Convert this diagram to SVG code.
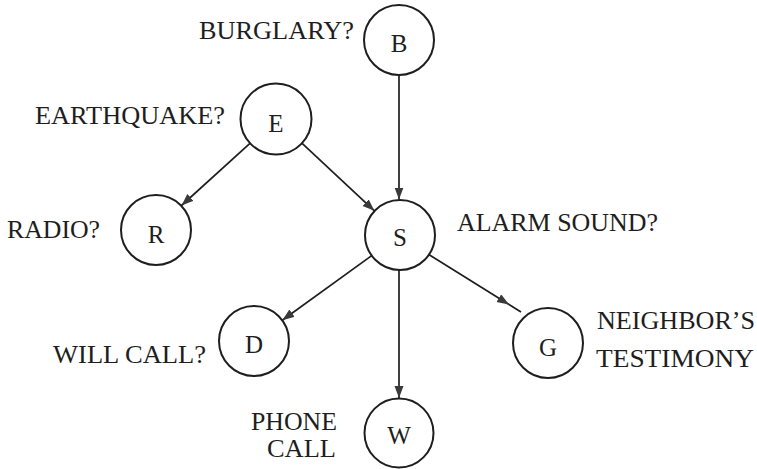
<svg xmlns="http://www.w3.org/2000/svg" width="757" height="469" viewBox="0 0 757 469">
  <style>
    .node circle { fill: #ffffff; stroke: #1e1e1e; stroke-width: 2; }
    .node text { font-family: "Liberation Serif", "Times New Roman", serif; font-size: 25px; fill: #1e1e1e; text-anchor: middle; }
    .label { font-family: "Liberation Serif", "Times New Roman", serif; font-size: 25px; fill: #1e1e1e; }
    .edge { fill: none; stroke: #1e1e1e; stroke-width: 1.7; }
    .arrow { marker-end: url(#head); }
  </style>
  <defs>
    <marker id="head" markerUnits="userSpaceOnUse" markerWidth="13" markerHeight="10" refX="12" refY="4.5" orient="auto">
      <path d="M0,0 L12,4.5 L0,9 z" fill="#3a3a3a"/>
    </marker>
  </defs>

  <rect width="757" height="469" fill="#ffffff"/>

  <!-- causal links -->
  <g id="connectors">
    <path class="edge arrow" d="M399,75 L399,199.5"/>
    <path class="edge arrow" d="M250.5,142.8 L181.5,205.5"/>
    <path class="edge arrow" d="M301.6,142.9 L374.4,210.8"/>
    <path class="edge arrow" d="M371.7,255.6 L282.3,320.2"/>
    <path class="edge arrow" d="M399,269.7 L399,398"/>
    <path class="edge arrow" d="M428,254 L509,304.5"/>
    <path class="edge" d="M509,304.5 L521,312"/>
  </g>

  <g id="node-B" class="node">
    <circle cx="399" cy="40" r="35"/>
    <text x="399" y="52">B</text>
  </g>
  <g id="node-E" class="node">
    <circle cx="276" cy="119" r="35.5"/>
    <text x="276" y="132">E</text>
  </g>
  <g id="node-R" class="node">
    <circle cx="156" cy="230" r="35"/>
    <text x="156" y="243">R</text>
  </g>
  <g id="node-S" class="node">
    <circle cx="400" cy="235" r="35"/>
    <text x="400" y="246">S</text>
  </g>
  <g id="node-D" class="node">
    <circle cx="254" cy="341" r="35"/>
    <text x="254" y="353">D</text>
  </g>
  <g id="node-G" class="node">
    <circle cx="548" cy="343" r="35"/>
    <text x="548" y="356">G</text>
  </g>
  <g id="node-W" class="node">
    <circle cx="399" cy="433" r="34.5"/>
    <text x="399" y="444">W</text>
  </g>

  <!-- variable descriptions -->
  <g id="labels">
    <text class="label" x="199" y="39" textLength="155" lengthAdjust="spacingAndGlyphs">BURGLARY?</text>
    <text class="label" x="35" y="124" textLength="190" lengthAdjust="spacingAndGlyphs">EARTHQUAKE?</text>
    <text class="label" x="7" y="238" textLength="93" lengthAdjust="spacingAndGlyphs">RADIO?</text>
    <text class="label" x="457" y="231" textLength="201" lengthAdjust="spacingAndGlyphs">ALARM SOUND?</text>
    <text class="label" x="53" y="363" textLength="153" lengthAdjust="spacingAndGlyphs">WILL CALL?</text>
    <text class="label" x="597" y="329" textLength="158" lengthAdjust="spacingAndGlyphs">NEIGHBOR’S</text>
    <text class="label" x="596" y="367" textLength="158" lengthAdjust="spacingAndGlyphs">TESTIMONY</text>
    <text class="label" x="251" y="430" textLength="86" lengthAdjust="spacingAndGlyphs">PHONE</text>
    <text class="label" x="267" y="457" textLength="69" lengthAdjust="spacingAndGlyphs">CALL</text>
  </g>
</svg>
